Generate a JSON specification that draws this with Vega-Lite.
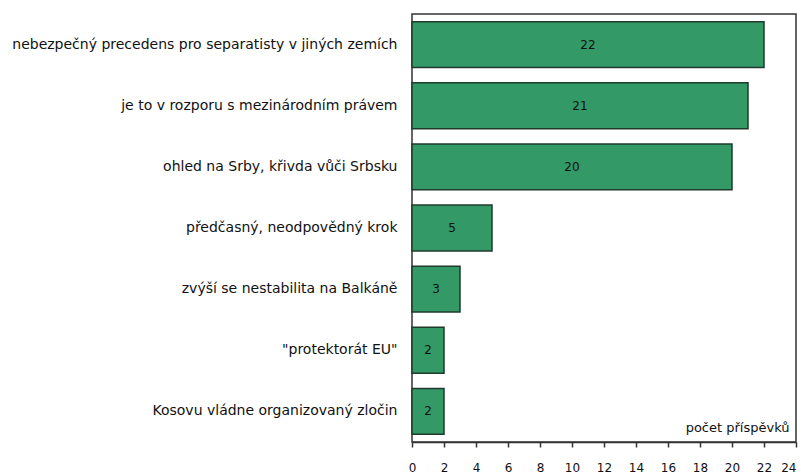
{
  "$schema": "https://vega.github.io/schema/vega-lite/v6.json",
  "autosize": {"type": "none"},
  "padding": {"left": 412, "top": 14, "right": 5, "bottom": 34},
  "width": 384,
  "height": 428,
  "background": "white",
  "config": {
    "view": {"stroke": "#333333", "strokeWidth": 1.5},
    "font": "DejaVu Sans"
  },
  "data": {
    "values": [
      {"kategorie": "nebezpečný precedens pro separatisty v jiných zemích", "pocet": 22},
      {"kategorie": "je to v rozporu s mezinárodním právem", "pocet": 21},
      {"kategorie": "ohled na Srby, křivda vůči Srbsku", "pocet": 20},
      {"kategorie": "předčasný, neodpovědný krok", "pocet": 5},
      {"kategorie": "zvýší se nestabilita na Balkáně", "pocet": 3},
      {"kategorie": "\"protektorát EU\"", "pocet": 2},
      {"kategorie": "Kosovu vládne organizovaný zločin", "pocet": 2}
    ]
  },
  "encoding": {
    "y": {
      "field": "kategorie",
      "type": "nominal",
      "sort": null,
      "scale": {"paddingInner": 0.25, "paddingOuter": 0.125},
      "axis": {
        "title": null,
        "domain": false,
        "ticks": false,
        "labelPadding": 15,
        "labelFontSize": 14,
        "labelColor": "#111111",
        "labelLimit": 420,
        "labelFont": "DejaVu Sans"
      }
    },
    "x": {
      "field": "pocet",
      "type": "quantitative",
      "scale": {"domain": [0, 24], "nice": false},
      "axis": {
        "values": [0, 2, 4, 6, 8, 10, 12, 14, 16, 18, 20, 22, 24],
        "grid": false,
        "domainColor": "#333333",
        "domainWidth": 1.5,
        "tickColor": "#333333",
        "tickWidth": 1.5,
        "tickSize": 5,
        "labelPadding": 15,
        "labelFontSize": 12,
        "labelColor": "#111111",
        "labelFlush": false,
        "labelAlign": {"expr": "datum.value === 24 ? 'right' : 'center'"},
        "title": "počet příspěvků",
        "titleFontSize": 13,
        "titleFontWeight": "normal",
        "titleColor": "#111111",
        "titleX": 377,
        "titleY": -8,
        "titleAlign": "right",
        "titleBaseline": "bottom",
        "titleAnchor": null
      }
    }
  },
  "layer": [
    {
      "mark": {"type": "bar", "color": "#339966", "stroke": "#1e3b2c", "strokeWidth": 1.5}
    },
    {
      "transform": [{"calculate": "datum.pocet / 2", "as": "stred"}],
      "mark": {"type": "text", "fontSize": 12, "color": "#111111"},
      "encoding": {
        "x": {"field": "stred", "type": "quantitative"},
        "text": {"field": "pocet", "type": "quantitative"}
      }
    }
  ]
}
